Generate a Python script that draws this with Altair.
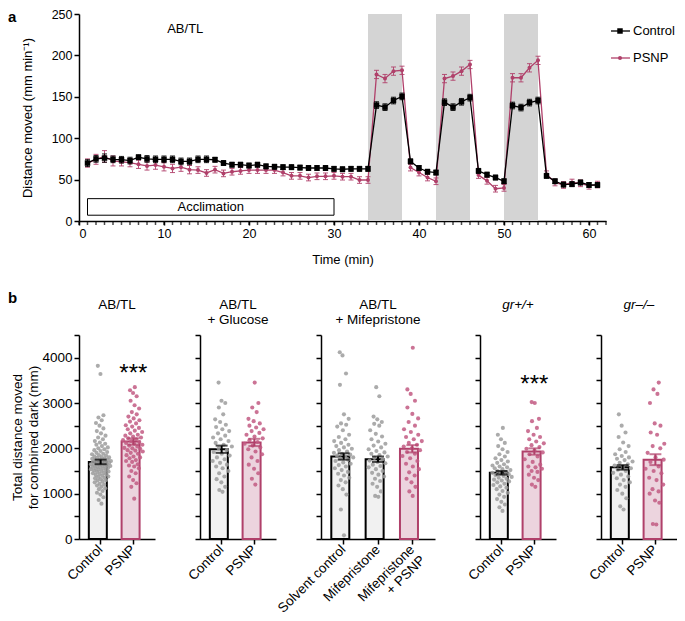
import altair as alt
import pandas as pd

FONT = "Liberation Sans"
PINK = "#b0406a"
PINK_PT = "#c25a82"
PINK_FILL = "#ecd4de"
GRAY_PT = "#9c9c9c"
CTRL_FILL = "#f1f1f1"

# ---------------- Panel a data ----------------
time_min = list(range(1, 62))
ctrl_mean = [70, 75, 76, 74.5, 74, 73, 77, 75, 74.5, 74.5, 74.5, 72, 72, 74.5, 74.5, 74, 70, 68, 68, 67,
             68, 66, 65.5, 65, 65, 64.5, 64, 64, 64, 63, 62.5, 63, 63, 63,
             140, 137.5, 145.5, 150.5,
             72, 64, 59.5, 58.5,
             143.5, 137.5, 144, 149,
             60.5, 56, 52.5, 48,
             139.5, 137, 143, 145.5,
             54.5, 48, 44, 44.5, 46.5, 43.5, 43.5]
ctrl_sem = [4, 4, 5, 4, 4, 4, 3, 4, 4, 4, 4, 4, 4, 4, 4, 3, 3, 3, 3, 3,
            3, 3, 3, 3, 3, 3, 3, 3, 3, 3, 3, 3, 3, 3,
            4, 4, 4, 4,
            3, 3, 3, 3,
            4, 4, 4, 4,
            3, 3, 3, 3,
            4, 4, 4, 4,
            3, 3, 3, 3, 3, 3, 3]
psnp_mean = [70, 74.5, 78, 72.5, 71.5, 70.5, 68.5, 66.5, 67.5, 65.5, 63.5, 65, 62, 61.5, 58, 62, 57.5, 59.5, 60.5, 61.5,
             61.5, 61.5, 61.5, 58.5, 54.5, 54.5, 52.5, 54, 54, 54.5, 53.5, 53.5, 49.5, 49.5,
             177, 172, 181, 182,
             64.5, 58.5, 52.5, 48,
             172, 175, 181, 189,
             55.5, 48.5, 39, 40,
             173, 173, 185, 194,
             56.5, 46.5, 43.5, 46.5, 45.5, 42.5, 44]
psnp_sem = [5, 6, 7, 6, 5, 5, 5, 5, 5, 5, 5, 5, 5, 4, 4, 4, 4, 4, 4, 4,
            4, 4, 4, 4, 4, 4, 4, 4, 4, 4, 4, 4, 4, 4,
            5, 5, 5, 5,
            4, 4, 4, 4,
            5, 5, 5, 5,
            4, 4, 4, 4,
            5, 5, 5, 5,
            4, 4, 4, 4, 4, 4, 4]
dark_start = [34, 42, 50]
dark_end = [38, 46, 54]
legend_labels = ["Control", "PSNP"]
x_major_ticks = [0, 10, 20, 30, 40, 50, 60]
x_minor_ticks = list(range(0, 63))

# ---------------- Panel b data ----------------
panel_titles = ["AB/TL", "AB/TL\n+ Glucose", "AB/TL\n+ Mifepristone", "gr+/+", "gr\u2013/\u2013"]
panel_groups = [["Control", "PSNP"], ["Control", "PSNP"],
                ["Solvent control", "Mifepristone", "Mifepristone + PSNP"],
                ["Control", "PSNP"], ["Control", "PSNP"]]
panel_kinds = [["c", "p"], ["c", "p"], ["c", "c", "p"], ["c", "p"], ["c", "p"]]
panel_means = [[1700, 2150], [1980, 2130], [1820, 1760, 1990], [1460, 1930], [1580, 1750]]
panel_sems = [[50, 70], [80, 80], [70, 60, 80], [40, 70], [50, 120]]
panel_stars_y = [3650, None, None, 3400, None]

pts_abtl_ctrl = [780, 860, 920, 980, 1020, 1060, 1100, 1120, 1150, 1180, 1200, 1220, 1250, 1270, 1290, 1300,
                 1320, 1340, 1350, 1370, 1380, 1400, 1410, 1430, 1440, 1450, 1460, 1480, 1490, 1500, 1510,
                 1520, 1530, 1540, 1550, 1560, 1570, 1580, 1590, 1600, 1600, 1610, 1620, 1630, 1640, 1650,
                 1650, 1660, 1670, 1680, 1690, 1700, 1700, 1710, 1720, 1730, 1740, 1750, 1760, 1770, 1780,
                 1790, 1800, 1810, 1820, 1840, 1850, 1870, 1880, 1900, 1920, 1940, 1960, 1980, 2000, 2020,
                 2050, 2080, 2100, 2130, 2160, 2200, 2240, 2280, 2330, 2380, 2440, 2500, 2560, 2620, 2680,
                 2730, 3640, 3820]
pts_abtl_psnp = [890, 1150, 1230, 1300, 1380, 1450, 1500, 1560, 1600, 1620, 1650, 1700, 1720, 1740, 1780,
                 1800, 1820, 1850, 1880, 1900, 1930, 1950, 1960, 1990, 2000, 2010, 2040, 2060, 2080, 2100,
                 2120, 2140, 2160, 2180, 2200, 2220, 2240, 2260, 2280, 2300, 2330, 2360, 2390, 2420, 2450,
                 2480, 2510, 2550, 2590, 2620, 2660, 2700, 2750, 2800, 2880, 2950, 3050, 3150, 3220, 3280,
                 3350]
pts_glu_ctrl = [1040, 1080, 1150, 1250, 1320, 1380, 1450, 1500, 1560, 1600, 1640, 1680, 1720, 1760, 1800,
                1840, 1880, 1920, 1960, 2000, 2040, 2080, 2120, 2160, 2200, 2240, 2280, 2330, 2380, 2420,
                2470, 2520, 2580, 2640, 2750, 2900, 3000, 3050, 3450]
pts_glu_psnp = [1200, 1330, 1450, 1550, 1640, 1720, 1800, 1870, 1930, 1980, 2020, 2060, 2100, 2140, 2180,
                2220, 2260, 2300, 2340, 2380, 2420, 2460, 2500, 2550, 2600, 2650, 2800, 2900, 3000, 3450]
pts_mife_solv = [80, 650, 980, 1100, 1180, 1250, 1300, 1350, 1400, 1440, 1480, 1520, 1560, 1600, 1630,
                 1660, 1690, 1720, 1750, 1780, 1800, 1820, 1840, 1860, 1880, 1900, 1930, 1960, 1990, 2020,
                 2050, 2080, 2120, 2160, 2200, 2250, 2300, 2400, 2480, 2520, 2550, 2650, 2750, 3400, 3650,
                 4050, 4120]
pts_mife = [930, 950, 1050, 1150, 1220, 1280, 1330, 1380, 1420, 1460, 1500, 1540, 1580, 1610, 1640, 1670,
            1700, 1730, 1760, 1790, 1820, 1850, 1880, 1910, 1940, 1980, 2020, 2060, 2100, 2150, 2200, 2260,
            2320, 2400, 2500, 2540, 2580, 2640, 2700, 3150, 3350]
pts_mife_psnp = [950, 1050, 1150, 1250, 1330, 1400, 1470, 1540, 1600, 1660, 1720, 1780, 1830, 1880, 1920,
                 1960, 2000, 2040, 2080, 2120, 2160, 2200, 2250, 2300, 2360, 2420, 2500, 2580, 2660, 2760,
                 2900, 3050, 3200, 3300, 4220]
pts_wt_ctrl = [620, 700, 760, 820, 880, 930, 980, 1020, 1060, 1100, 1130, 1160, 1190, 1220, 1250, 1270,
               1290, 1310, 1330, 1350, 1370, 1390, 1410, 1430, 1450, 1460, 1480, 1500, 1520, 1540, 1560,
               1580, 1600, 1620, 1650, 1680, 1710, 1740, 1780, 1820, 1870, 1920, 1980, 2050, 2120, 2200,
               2300, 2450]
pts_wt_psnp = [1150, 1200, 1300, 1350, 1420, 1480, 1500, 1550, 1580, 1600, 1640, 1700, 1760, 1820, 1870,
               1910, 1950, 1990, 2030, 2070, 2110, 2150, 2200, 2250, 2300, 2380, 2450, 2600, 2650, 3000, 3020]
pts_ko_ctrl = [650, 720, 900, 1000, 1080, 1150, 1200, 1250, 1300, 1340, 1380, 1420, 1460, 1500, 1530, 1560,
               1590, 1620, 1650, 1680, 1710, 1740, 1770, 1800, 1830, 1870, 1920, 1980, 2050, 2130, 2250,
               2350, 2500, 2750]
pts_ko_psnp = [320, 330, 800, 850, 1000, 1050, 1100, 1200, 1300, 1350, 1450, 1500, 1550, 1600, 1700, 1750,
               1800, 1900, 2000, 2050, 2100, 2300, 2350, 2500, 2550, 3000, 3200, 3300, 3450]
panel_points = [[pts_abtl_ctrl, pts_abtl_psnp], [pts_glu_ctrl, pts_glu_psnp],
                [pts_mife_solv, pts_mife, pts_mife_psnp], [pts_wt_ctrl, pts_wt_psnp],
                [pts_ko_ctrl, pts_ko_psnp]]

# ---------------- Panel a chart ----------------
W_A, H_A = 527, 207

ts = pd.DataFrame({
    "t": time_min * 2,
    "m": ctrl_mean + psnp_mean,
    "s": ctrl_sem + psnp_sem,
    "series": ["Control"] * len(time_min) + ["PSNP"] * len(time_min),
})
ts["lo"] = ts["m"] - ts["s"]
ts["hi"] = ts["m"] + ts["s"]

x_scale_a = alt.Scale(domain=[0, 62], nice=False)
y_scale_a = alt.Scale(domain=[0, 250], nice=False)
x_axis_a = alt.Axis(values=x_major_ticks, title="Time (min)", labelOverlap=False,
                    tickSize=4, grid=False, titlePadding=14, format="d")
y_axis_a = alt.Axis(values=[0, 50, 100, 150, 200, 250], title="Distance moved (mm min\u207b\u00b9)",
                    tickSize=5, grid=False, titlePadding=17, format="d")


def XA(f):
    return alt.X(f, scale=x_scale_a, axis=x_axis_a)


def YA(f):
    return alt.Y(f, scale=y_scale_a, axis=y_axis_a)


dark_df = pd.DataFrame({"x0": dark_start, "x1": dark_end})
dark = alt.Chart(dark_df).mark_rect(color="#d4d4d4").encode(
    x=XA("x0:Q"), x2="x1:Q", y=alt.value(0), y2=alt.value(H_A))

minor_df = pd.DataFrame({"t": x_minor_ticks})
minor = alt.Chart(minor_df).mark_tick(orient="vertical", size=4, thickness=1.5, color="black").encode(
    x=XA("t:Q"), y=alt.value(H_A + 2))

accl_df = pd.DataFrame({"x0": [1], "x1": [30], "y0": [7], "y1": [27], "xm": [15.5], "ym": [17], "lab": ["Acclimation"]})
accl_box = alt.Chart(accl_df).mark_rect(fill="white", stroke="black", strokeWidth=1).encode(
    x=XA("x0:Q"), x2="x1:Q", y=YA("y0:Q"), y2="y1:Q")
accl_txt = alt.Chart(accl_df).mark_text(font=FONT, fontSize=13).encode(
    x=XA("xm:Q"), y=YA("ym:Q"), text="lab:N")
abtl_df = pd.DataFrame({"x": [12.5], "y": [232], "lab": ["AB/TL"]})
abtl_txt = alt.Chart(abtl_df).mark_text(font=FONT, fontSize=13).encode(
    x=XA("x:Q"), y=YA("y:Q"), text="lab:N")


def series_layers(name, color, shape, size):
    base = alt.Chart(ts).transform_filter(alt.datum.series == name)
    line = base.mark_line(color=color, strokeWidth=1.3).encode(x=XA("t:Q"), y=YA("m:Q"))
    err = base.mark_rule(color=color, strokeWidth=1, opacity=0.9).encode(x=XA("t:Q"), y=YA("lo:Q"), y2="hi:Q")
    cap_lo = base.mark_tick(color=color, orient="horizontal", size=5, thickness=1, opacity=0.9).encode(
        x=XA("t:Q"), y=YA("lo:Q"))
    cap_hi = base.mark_tick(color=color, orient="horizontal", size=5, thickness=1, opacity=0.9).encode(
        x=XA("t:Q"), y=YA("hi:Q"))
    pts = base.mark_point(shape=shape, filled=True, color=color, size=size, opacity=1).encode(
        x=XA("t:Q"), y=YA("m:Q"))
    return [line, err, cap_lo, cap_hi, pts]


leg_layers = []
for i, (lab, col, shp, sz) in enumerate(zip(legend_labels, ["black", PINK], ["square", "circle"], [30, 16])):
    ypix = 17 + i * 27
    one = pd.DataFrame({"lab": [lab]})
    leg_layers.append(alt.Chart(one).mark_rule(color=col, strokeWidth=1.3).encode(
        x=alt.value(W_A + 5), x2=alt.value(W_A + 24), y=alt.value(ypix)))
    leg_layers.append(alt.Chart(one).mark_point(shape=shp, filled=True, color=col, size=sz, opacity=1).encode(
        x=alt.value(W_A + 14), y=alt.value(ypix)))
    leg_layers.append(alt.Chart(one).mark_text(font=FONT, fontSize=13, align="left", baseline="middle").encode(
        x=alt.value(W_A + 27), y=alt.value(ypix), text="lab:N"))

a_df = pd.DataFrame({"lab": ["a"]})
a_lbl = alt.Chart(a_df).mark_text(font=FONT, fontSize=15, fontWeight="bold", align="left", baseline="top").encode(
    x=alt.value(-71), y=alt.value(-4), text="lab:N")

top = alt.layer(
    dark, minor, accl_box, accl_txt, abtl_txt,
    *series_layers("PSNP", PINK, "circle", 16),
    *series_layers("Control", "black", "square", 30),
    *leg_layers, a_lbl
).properties(width=W_A, height=H_A)

# ---------------- Panel b charts ----------------
H_B = 204


def make_panel(idx, width):
    groups = panel_groups[idx]
    kinds = panel_kinds[idx]
    first = idx == 0
    bar_df = pd.DataFrame({
        "group": groups,
        "mean": panel_means[idx],
        "sem": panel_sems[idx],
        "fill": [CTRL_FILL if k == "c" else PINK_FILL for k in kinds],
        "stroke": ["black" if k == "c" else PINK for k in kinds],
    })
    bar_df["lo"] = bar_df["mean"] - bar_df["sem"]
    bar_df["hi"] = bar_df["mean"] + bar_df["sem"]
    rows = []
    for g, k, vals in zip(groups, kinds, panel_points[idx]):
        for v in vals:
            rows.append({"group": g, "value": v, "pt": GRAY_PT if k == "c" else PINK_PT})
    pts_df = pd.DataFrame(rows)

    x = alt.X("group:N", sort=groups,
              scale=alt.Scale(domain=groups, paddingInner=0.28, paddingOuter=0.3),
              axis=alt.Axis(title=None, labelAngle=-45, labelAlign="right", labelBaseline="middle",
                            labelExpr="datum.value == 'Mifepristone + PSNP' ? ['Mifepristone', '+ PSNP'] : datum.label",
                            tickSize=5, labelPadding=3, labelFontSize=13.5, labelLineHeight=15))
    yaxis = alt.Axis(values=list(range(0, 4501, 500)),
                     labelExpr="datum.value % 1000 == 0 ? datum.label : ''",
                     labels=first, labelOverlap=False, grid=False, tickSize=5,
                     title=["Total distance moved", "for combined dark (mm)"] if first else None,
                     titlePadding=1, titleLineHeight=16, labelFontSize=13.5, titleFontSize=13.5, format="d")
    yscale = alt.Scale(domain=[0, 4500], nice=False)

    bars = alt.Chart(bar_df).mark_bar(strokeWidth=2).encode(
        x=x, y=alt.Y("mean:Q", scale=yscale, axis=yaxis),
        fill=alt.Fill("fill:N", scale=None), stroke=alt.Stroke("stroke:N", scale=None))
    pts = alt.Chart(pts_df).transform_joinaggregate(
        n="count()", groupby=["group"]
    ).transform_window(
        rn="row_number()", groupby=["group"], sort=[alt.SortField("value")]
    ).transform_calculate(
        jit="(((datum.rn * 0.618034) % 1) * 2 - 1) * (0.3 + 0.7 * sin(PI * datum.rn / (datum.n + 1)))"
    ).mark_circle(size=17, opacity=0.85).encode(
        x=x, xOffset=alt.XOffset("jit:Q", scale=alt.Scale(domain=[-1.1, 1.1])),
        y=alt.Y("value:Q", scale=yscale, axis=yaxis),
        fill=alt.Fill("pt:N", scale=None))
    err = alt.Chart(bar_df).mark_rule(strokeWidth=2).encode(
        x=x, y=alt.Y("lo:Q", scale=yscale, axis=yaxis), y2="hi:Q",
        stroke=alt.Stroke("stroke:N", scale=None))
    caps = alt.Chart(bar_df).transform_fold(["lo", "hi"], as_=["which", "v"]).mark_tick(
        orient="horizontal", size=12, thickness=2).encode(
        x=x, y=alt.Y("v:Q", scale=yscale, axis=yaxis),
        color=alt.Color("stroke:N", scale=None))
    title_df = pd.DataFrame({"lab": [panel_titles[idx]]})
    ttl = alt.Chart(title_df).mark_text(
        font=FONT, fontSize=13.5, baseline="top", lineBreak="\n", lineHeight=15,
        fontStyle="italic" if idx >= 3 else "normal").encode(
        x=alt.value(width / 2), y=alt.value(-37), text="lab:N")
    layers = [bars, pts, err, caps, ttl]
    if panel_stars_y[idx] is not None:
        st_df = pd.DataFrame({"group": [groups[-1]], "y": [panel_stars_y[idx]], "lab": ["***"]})
        layers.append(alt.Chart(st_df).mark_text(font=FONT, fontSize=24, baseline="middle").encode(
            x=x, y=alt.Y("y:Q", scale=yscale, axis=yaxis), text="lab:N"))
    if first:
        b_df = pd.DataFrame({"lab": ["b"]})
        layers.append(alt.Chart(b_df).mark_text(font=FONT, fontSize=15, fontWeight="bold", align="left",
                                                baseline="top").encode(
            x=alt.value(-71), y=alt.value(-44), text="lab:N"))
    return alt.layer(*layers).properties(width=width, height=H_B)


widths = [76, 76, 114, 76, 76]
bottom = alt.hconcat(*[make_panel(i, w) for i, w in enumerate(widths)], spacing=45, bounds="flush")

chart = alt.vconcat(top, bottom, spacing=114, bounds="flush", padding=0).configure(
    font=FONT
).configure_view(stroke=None).configure_axis(
    domainColor="black", domainWidth=1.5, tickColor="black", tickWidth=1.5,
    labelColor="black", titleColor="black", labelFont=FONT, titleFont=FONT,
    labelFontSize=12.5, titleFontSize=13, titleFontWeight="normal"
)

chart.save("out.html", embed_options={"renderer": "svg", "actions": False})
